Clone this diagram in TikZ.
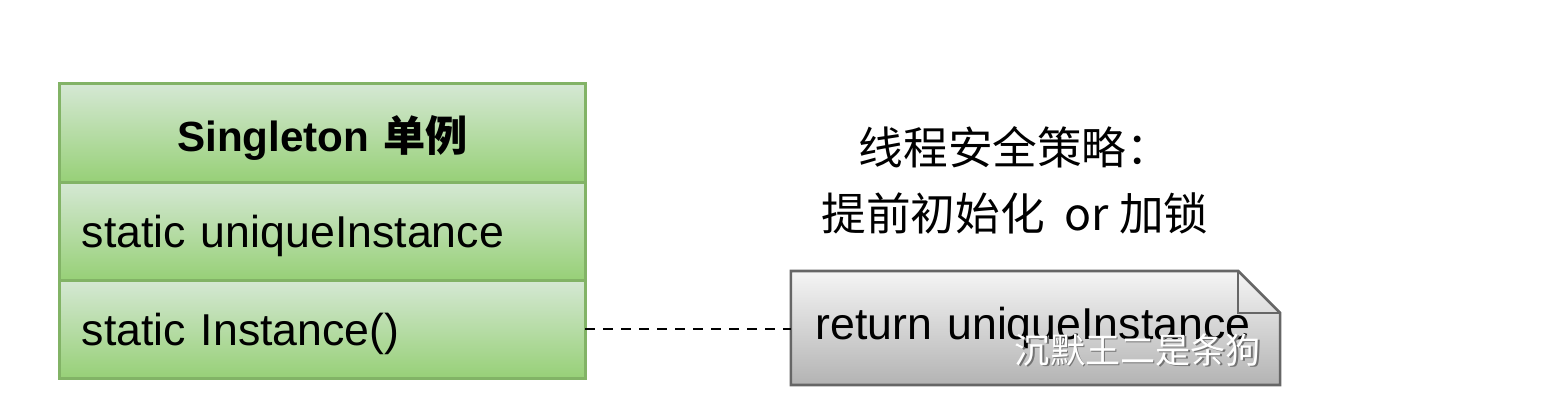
\documentclass[tikz,border=0pt]{standalone}
\usepackage{fontspec}
\setmainfont{Liberation Sans}
\newfontfamily\cjk{Noto Sans CJK SC}
\usetikzlibrary{positioning, backgrounds}
\definecolor{ClassTop}{RGB}{213, 232, 212}
\definecolor{ClassBottom}{RGB}{151, 208, 119}
\definecolor{ClassBorder}{RGB}{130, 179, 102}
\definecolor{NoteTop}{RGB}{245, 245, 245}
\definecolor{NoteBottom}{RGB}{179, 179, 179}
\definecolor{NoteBorder}{RGB}{102, 102, 102}

\begin{document}
\begin{tikzpicture}[x=0.01cm, y=-0.01cm,
    classpart/.style={draw=ClassBorder, line width=0.85pt, outer sep=0pt,
      top color=ClassTop, bottom color=ClassBottom,
      minimum width=5.25cm, minimum height=0.98cm, inner xsep=0.22cm,
      text width=4.81cm, text depth=0pt, align=left, font=\fontsize{12.7}{15}\selectfont},
    notebox/.style={outer sep=0pt, minimum width=4.89cm, minimum height=1.14cm,
      inner xsep=0.25cm, text width=4.39cm, align=left,
      font=\fontsize{12.7}{15}\selectfont}]
    \useasboundingbox (0,0) rectangle (1562,408);

    % Class box
    \node[classpart, align=center, font=\bfseries\fontsize{12}{14}\selectfont] (cls) at (322.5,133) {Singleton {\cjk 单例}};
    \node[classpart, below=0pt of cls] (attr) {static uniqueInstance};
    \node[classpart, below=0pt of attr] (meth) {static Instance()};

    % Note
    \node[notebox] (note) at (1035.5,328) {return uniqueInstance};
    \begin{scope}[on background layer]
      \shade[top color=NoteTop, bottom color=NoteBottom, draw=NoteBorder, line width=0.75pt]
        (note.north west) -- ([xshift=-0.42cm]note.north east) -- ([yshift=-0.42cm]note.north east)
        -- (note.south east) -- (note.south west) -- cycle;
    \end{scope}
    \draw[NoteBorder, line width=0.75pt] ([xshift=-0.42cm]note.north east) |- ([yshift=-0.42cm]note.north east);

    % Link
    \draw[line width=0.6pt, dash pattern=on 0.1cm off 0.08cm] (meth.east) -- (meth.east -| note.west);

    % Thread safety text
    \node[font=\cjk\fontsize{12.7}{18.7}\selectfont, align=center] (policy) at (1015,180) {线程安全策略：\\提前初始化~~or 加锁};

    % Watermark
    \node[font=\cjk\fontsize{10}{12}\selectfont, text=black!55] (markshadow) at (1139.5,351.5) {沉默王二是条狗};
    \node[font=\cjk\fontsize{10}{12}\selectfont, text=white] (mark) at (1138,350) {沉默王二是条狗};
\end{tikzpicture}
\end{document}
